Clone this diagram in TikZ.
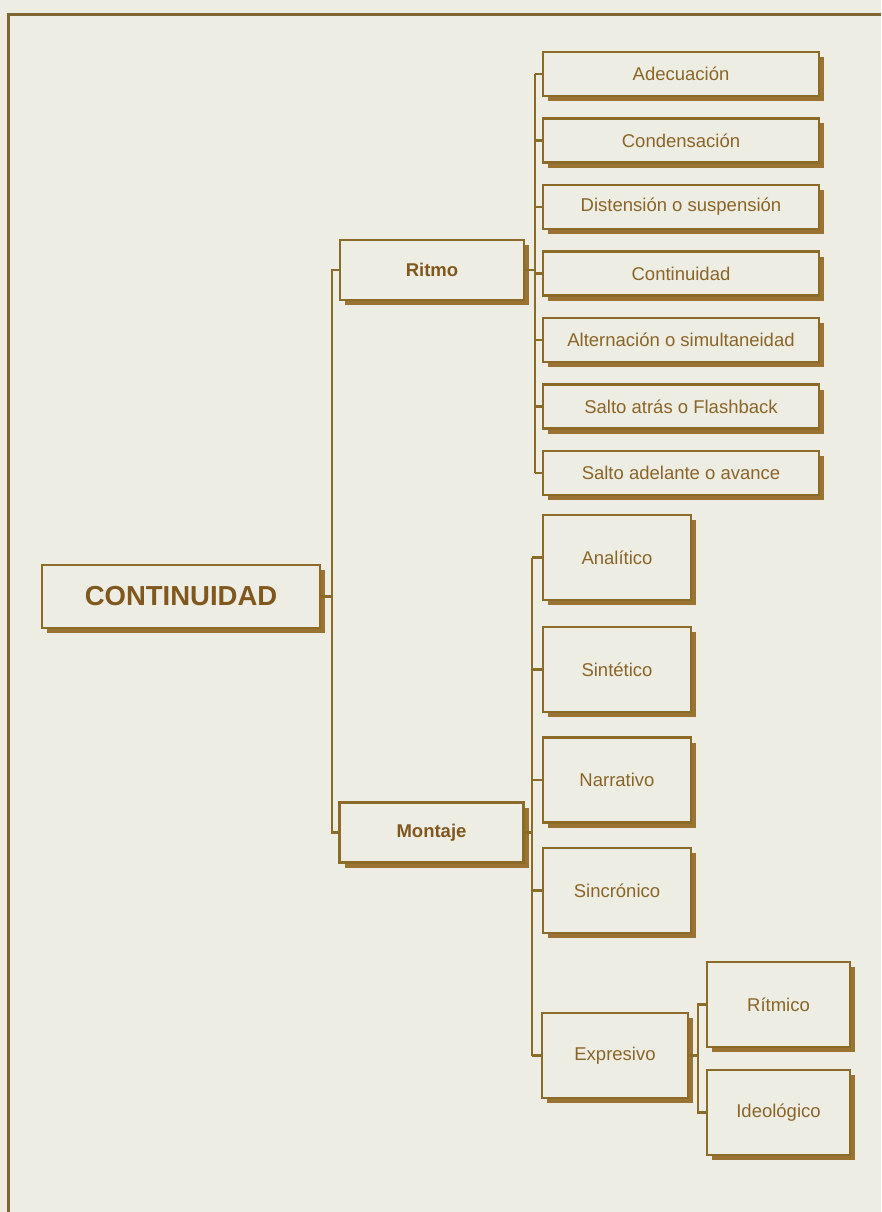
\documentclass[tikz,border=0pt]{standalone}
\usepackage{fontspec}
\setmainfont{Liberation Sans}
\usetikzlibrary{shadows}
\definecolor{paper}{HTML}{EEEDE3}
\definecolor{linec}{HTML}{8C6A28}
\definecolor{shadowc}{HTML}{9A7332}
\definecolor{textc}{HTML}{8A6528}
\definecolor{boldc}{HTML}{80581E}
\definecolor{framec}{HTML}{7E6632}
\begin{document}
\begin{tikzpicture}[x=1pt,y=-1pt,
  box/.style={draw=linec, line width=2.2pt, fill=paper, text=textc, inner sep=0pt,
    font=\fontsize{18.5}{20}\selectfont,
    drop shadow={shadow xshift=5pt, shadow yshift=-5pt, fill=shadowc, opacity=1}},
  boldbox/.style={box, text=boldc, font=\fontsize{18.5}{20}\selectfont\bfseries},
  conn/.style={draw=linec, line width=2.3pt},
  framel/.style={draw=framec, line width=3pt}]
\useasboundingbox (0,0) rectangle (881,1212);
\fill[paper] (0,0) rectangle (881,1212);
% frame
\coordinate (fr1) at (881,15);
\coordinate (fr2) at (8,15);
\coordinate (fr3) at (8,1212);
\draw[framel] (fr1) -- (fr2) -- (fr3);
% root
\node[boldbox, minimum width=278pt, minimum height=63pt,
  font=\fontsize{27.5}{30}\selectfont\bfseries] (cont) at (181,596.5) {CONTINUIDAD};
% level 1
\node[boldbox, minimum width=184pt, minimum height=60pt] (ritmo) at (432,270) {Ritmo};
\node[boldbox, minimum width=184pt, minimum height=60pt] (montaje) at (431.5,832.5) {Montaje};
% Ritmo children
\node[box, minimum width=276pt, minimum height=44pt] (adec) at (681,74) {Adecuación};
\node[box, minimum width=276pt, minimum height=44pt] (cond) at (681,140.5) {Condensación};
\node[box, minimum width=276pt, minimum height=44pt] (dist) at (681,207) {Distensión o suspensión};
\node[box, minimum width=276pt, minimum height=44pt] (cnt) at (681,273.5) {Continuidad};
\node[box, minimum width=276pt, minimum height=44pt] (alt) at (681,340) {Alternación o simultaneidad};
\node[box, minimum width=276pt, minimum height=44pt] (satr) at (681,406.5) {Salto atrás o Flashback};
\node[box, minimum width=276pt, minimum height=44pt] (sade) at (681,473) {Salto adelante o avance};
% Montaje children
\node[box, minimum width=148pt, minimum height=85pt] (anal) at (617,557.5) {Analítico};
\node[box, minimum width=148pt, minimum height=85pt] (sint) at (617,669.5) {Sintético};
\node[box, minimum width=148pt, minimum height=85pt] (narr) at (617,780) {Narrativo};
\node[box, minimum width=148pt, minimum height=85pt] (sinc) at (617,890.5) {Sincrónico};
\node[box, minimum width=146pt, minimum height=85pt] (expr) at (615,1055.5) {Expresivo};
% Expresivo children
\node[box, minimum width=143pt, minimum height=85pt] (ritm) at (778.5,1004.5) {Rítmico};
\node[box, minimum width=143pt, minimum height=85pt] (ideo) at (778.5,1112.5) {Ideológico};
% trunk from root
\coordinate (tt) at (332,270);
\draw[conn] (ritmo.west) -- (ritmo.west -| tt) -- (montaje.west -| tt) -- (montaje.west);
\draw[conn] (cont.east) -- (cont.east -| tt);
% Ritmo bus
\coordinate (rb) at (535,74);
\draw[conn] (adec.west -| rb) -- (sade.west -| rb);
\foreach \n in {adec,cond,dist,cnt,alt,satr,sade}{\draw[conn] (\n.west) -- (\n.west -| rb);}
\draw[conn] (ritmo.east) -- (ritmo.east -| rb);
% Montaje bus
\coordinate (mb) at (532,557.5);
\draw[conn] (anal.west -| mb) -- (expr.west -| mb);
\foreach \n in {anal,sint,narr,sinc,expr}{\draw[conn] (\n.west) -- (\n.west -| mb);}
\draw[conn] (montaje.east) -- (montaje.east -| mb);
% Expresivo bus
\coordinate (eb) at (698,1004.5);
\draw[conn] (ritm.west) -- (ritm.west -| eb) -- (ideo.west -| eb) -- (ideo.west);
\draw[conn] (expr.east) -- (expr.east -| eb);
\end{tikzpicture}
\end{document}
